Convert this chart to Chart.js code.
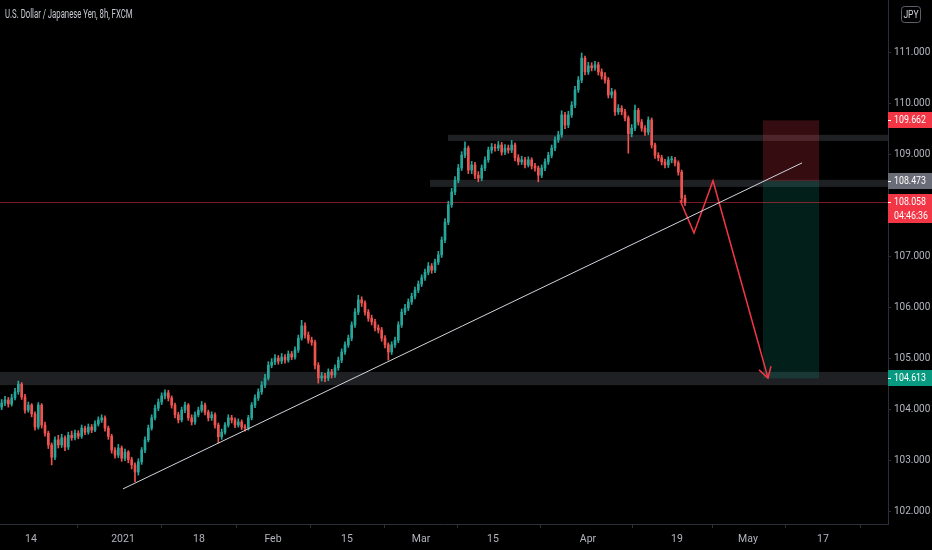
<!DOCTYPE html>
<html>
<head>
<meta charset="utf-8">
<title>USDJPY 8h</title>
<script src="https://cdn.jsdelivr.net/npm/chart.js@4.4.1/dist/chart.umd.min.js"></script>
<style>
  html, body { margin: 0; padding: 0; background: #000; }
  #wrap { width: 932px; height: 550px; position: relative; }
</style>
</head>
<body>
<div id="wrap"><canvas id="chart"></canvas></div>
<script>
// 8h candles, Dec 2020 - Apr 20 2021, opens follow previous close
const firstOpen = 104.05;
const closes = [
  104.13, 104.19, 104.11, 104.23, 104.35, 104.50, 104.25, 103.99, 104.09, 103.92,
  103.66, 104.09, 103.70, 103.54, 103.31, 103.07, 103.41, 103.31, 103.45, 103.27,
  103.50, 103.45, 103.54, 103.48, 103.64, 103.56, 103.66, 103.60, 103.72, 103.80,
  103.84, 103.64, 103.48, 103.21, 103.11, 103.25, 103.05, 103.17, 103.02, 102.92,
  102.78, 102.98, 103.21, 103.41, 103.64, 103.84, 104.03, 104.15, 104.27, 104.33,
  104.23, 104.09, 103.90, 103.80, 103.99, 104.09, 103.84, 103.76, 103.90, 103.99,
  104.09, 103.95, 103.84, 103.90, 103.70, 103.47, 103.56, 103.70, 103.84, 103.80,
  103.70, 103.76, 103.66, 103.64, 103.84, 104.09, 104.23, 104.35, 104.48, 104.62,
  104.87, 104.93, 105.01, 104.95, 105.03, 104.97, 105.09, 105.03, 105.17, 105.40,
  105.64, 105.46, 105.36, 105.32, 104.87, 104.62, 104.66, 104.62, 104.74, 104.68,
  104.82, 104.97, 105.13, 105.27, 105.40, 105.66, 105.91, 106.15, 106.09, 105.91,
  105.79, 105.72, 105.60, 105.56, 105.40, 105.27, 105.13, 105.27, 105.36, 105.66,
  105.91, 105.99, 106.11, 106.22, 106.34, 106.46, 106.58, 106.69, 106.81, 106.73,
  106.89, 107.03, 107.32, 107.67, 108.01, 108.26, 108.49, 108.73, 108.98, 109.12,
  108.69, 108.79, 108.59, 108.53, 108.73, 108.89, 109.08, 109.14, 109.12, 109.18,
  109.04, 109.12, 109.08, 109.18, 108.93, 108.85, 108.89, 108.79, 108.89, 108.77,
  108.73, 108.59, 108.73, 108.85, 108.98, 109.12, 109.28, 109.38, 109.77, 109.57,
  109.77, 109.96, 110.26, 110.45, 110.88, 110.61, 110.73, 110.69, 110.75, 110.61,
  110.53, 110.45, 110.16, 110.22, 109.83, 109.90, 109.83, 109.71, 109.40, 109.51,
  109.86, 109.63, 109.51, 109.43, 109.67, 109.18, 108.98, 108.93, 108.85, 108.79,
  108.89, 108.89, 108.83, 108.65, 108.14, 108.06
];
const highs = [
  104.20, 104.26, 104.24, 104.30, 104.42, 104.56, 104.53, 104.30, 104.15, 104.12,
  103.96, 104.14, 104.12, 103.76, 103.58, 103.35, 103.47, 103.50, 103.52, 103.49,
  103.56, 103.58, 103.60, 103.59, 103.70, 103.68, 103.72, 103.71, 103.78, 103.86,
  103.90, 103.88, 103.68, 103.52, 103.26, 103.32, 103.29, 103.23, 103.20, 103.07,
  102.96, 103.04, 103.26, 103.47, 103.70, 103.90, 104.09, 104.21, 104.33, 104.39,
  104.38, 104.27, 104.13, 103.95, 104.05, 104.15, 104.12, 103.90, 103.96, 104.05,
  104.16, 104.13, 103.99, 103.96, 103.94, 103.74, 103.62, 103.75, 103.90, 103.89,
  103.84, 103.82, 103.80, 103.71, 103.89, 104.14, 104.29, 104.41, 104.55, 104.69,
  104.94, 105.00, 105.08, 105.06, 105.10, 105.08, 105.15, 105.14, 105.23, 105.46,
  105.75, 105.70, 105.52, 105.42, 105.36, 104.92, 104.73, 104.71, 104.80, 104.79,
  104.88, 105.03, 105.19, 105.33, 105.46, 105.72, 105.98, 106.24, 106.21, 106.13,
  105.96, 105.85, 105.77, 105.66, 105.61, 105.45, 105.31, 105.33, 105.42, 105.72,
  105.97, 106.06, 106.17, 106.28, 106.40, 106.52, 106.64, 106.75, 106.88, 106.86,
  106.95, 107.10, 107.38, 107.74, 108.08, 108.33, 108.56, 108.80, 109.05, 109.24,
  109.16, 108.86, 108.84, 108.66, 108.79, 108.95, 109.14, 109.21, 109.20, 109.25,
  109.23, 109.19, 109.18, 109.27, 109.22, 108.99, 108.96, 108.94, 108.95, 108.93,
  108.82, 108.77, 108.79, 108.91, 109.04, 109.18, 109.34, 109.45, 109.85, 109.82,
  109.84, 110.03, 110.33, 110.52, 110.98, 110.92, 110.80, 110.79, 110.82, 110.80,
  110.67, 110.60, 110.50, 110.29, 110.26, 109.97, 109.95, 109.88, 109.75, 109.58,
  109.96, 109.90, 109.68, 109.56, 109.73, 109.71, 109.22, 109.03, 108.98, 108.90,
  108.95, 108.96, 108.94, 108.87, 108.69, 108.20
];
const lows = [
  104.00, 104.08, 104.05, 104.07, 104.19, 104.30, 104.20, 103.93, 103.95, 103.86,
  103.60, 103.62, 103.64, 103.48, 103.24, 102.92, 103.02, 103.25, 103.26, 103.20,
  103.22, 103.40, 103.41, 103.43, 103.44, 103.51, 103.52, 103.55, 103.57, 103.68,
  103.75, 103.58, 103.42, 103.15, 103.05, 103.06, 102.99, 103.00, 102.96, 102.84,
  102.59, 102.72, 102.93, 103.16, 103.37, 103.60, 103.80, 103.98, 104.10, 104.21,
  104.17, 104.03, 103.84, 103.74, 103.76, 103.94, 103.79, 103.70, 103.71, 103.86,
  103.95, 103.90, 103.78, 103.79, 103.64, 103.35, 103.42, 103.52, 103.66, 103.74,
  103.65, 103.66, 103.61, 103.58, 103.60, 103.80, 104.04, 104.18, 104.30, 104.43,
  104.58, 104.82, 104.88, 104.89, 104.90, 104.91, 104.93, 104.98, 104.99, 105.12,
  105.36, 105.40, 105.30, 105.26, 104.80, 104.52, 104.56, 104.55, 104.57, 104.62,
  104.63, 104.77, 104.92, 105.08, 105.22, 105.35, 105.61, 105.86, 106.02, 105.85,
  105.73, 105.66, 105.54, 105.50, 105.34, 105.21, 104.97, 105.08, 105.22, 105.31,
  105.61, 105.86, 105.94, 106.06, 106.17, 106.29, 106.41, 106.53, 106.64, 106.67,
  106.68, 106.84, 106.98, 107.27, 107.62, 107.96, 108.21, 108.44, 108.68, 108.93,
  108.62, 108.62, 108.52, 108.46, 108.48, 108.68, 108.84, 109.02, 109.06, 109.07,
  108.98, 108.99, 109.02, 109.03, 108.87, 108.79, 108.80, 108.73, 108.75, 108.71,
  108.67, 108.46, 108.54, 108.68, 108.80, 108.93, 109.07, 109.23, 109.33, 109.50,
  109.52, 109.72, 109.91, 110.21, 110.40, 110.55, 110.56, 110.63, 110.64, 110.55,
  110.47, 110.39, 110.10, 110.10, 109.76, 109.78, 109.77, 109.65, 109.02, 109.34,
  109.46, 109.57, 109.45, 109.37, 109.38, 109.12, 108.92, 108.87, 108.79, 108.73,
  108.74, 108.83, 108.77, 108.59, 108.05, 108.00
];

// time axis (candle index) and price axis
const dateTickPos = [8.8, 36.4, 59.2, 81.4, 103.6, 125.8, 147.4, 175.9, 202.6, 223.9, 246.4];
const dateTickLabels = ['14', '2021', '18', 'Feb', '15', 'Mar', '15', 'Apr', '19', 'May', '17'];
const priceTicks = [102, 103, 104, 105, 106, 107, 108, 109, 110, 111];

// drawings: support/resistance zones, trendline, projected path, short position
const zoneLows = [104.48, 108.36, 109.26];
const zoneHighs = [104.74, 108.50, 109.38];
const zoneStarts = [-0.5, 128.5, 133.9];
const trendX = [36.4, 240.1];
const trendY = [102.45, 108.83];
const pathX = [203.5, 207.7, 213.4, 229.9];
const pathY = [108.10, 107.46, 108.48, 104.62];
const arrowX = [227.2, 229.9, 230.8];
const arrowY = [104.78, 104.62, 104.85];
const stopPrice = 109.662;
const entryPrice = 108.473;
const targetPrice = 104.613;
const boxStart = 228.4;
const boxEnd = 245.2;
const lastPrice = 108.058;
const countdown = '04:46:36';

const UP = '#26a69a';
const DOWN = '#ef5350';
const TEXT = '#b2b5be';
const LINE = '#2a2e39';
const FONT = 'Roboto, sans-serif';

const opens = closes.map((c, i) => i === 0 ? firstOpen : closes[i - 1]);
const colors = closes.map((c, i) => c >= opens[i] ? UP : DOWN);
const bodies = closes.map((c, i) => ({ x: i, y: [opens[i], c] }));
const wicks = closes.map((c, i) => ({ x: i, y: [lows[i], highs[i]] }));
const toPts = (xs, ys) => xs.map((x, i) => ({ x: x, y: ys[i] }));

// narrow text, like the squeezed labels of the picture
function narrowText(ctx, text, x, y, squeeze) {
    ctx.save();
    ctx.translate(x, y);
    ctx.scale(squeeze, 1);
    ctx.fillText(text, 0, 0);
    ctx.restore();
}

function badge(ctx, yPix, bg, lines) {
    const h = 16 + (lines.length - 1) * 13;
    const top = Math.round(yPix - 8);
    ctx.fillStyle = bg;
    ctx.fillRect(888, top, 44, h);
    ctx.strokeStyle = '#ffffff';
    ctx.lineWidth = 1;
    ctx.beginPath();
    ctx.moveTo(888, top + 8.5);
    ctx.lineTo(891, top + 8.5);
    ctx.stroke();
    ctx.fillStyle = '#ffffff';
    ctx.font = '11px ' + FONT;
    ctx.textAlign = 'left';
    ctx.textBaseline = 'middle';
    lines.forEach((t, k) => narrowText(ctx, t, 894, top + 8.5 + k * 14, 0.8));
}

const overlay = {
    id: 'overlay',
    beforeDatasetsDraw(chart) {
        const { ctx, chartArea: a, scales: { x, y } } = chart;
        ctx.save();
        ctx.beginPath();
        ctx.rect(a.left, a.top, a.width, a.height);
        ctx.clip();
        ctx.fillStyle = 'rgba(120, 123, 134, 0.26)';
        zoneLows.forEach((lo, k) => {
            const x0 = x.getPixelForValue(zoneStarts[k]);
            const yt = y.getPixelForValue(zoneHighs[k]);
            ctx.fillRect(x0, yt, a.right - x0, y.getPixelForValue(lo) - yt);
        });
        const bx0 = x.getPixelForValue(boxStart);
        const bx1 = x.getPixelForValue(boxEnd);
        const yStop = y.getPixelForValue(stopPrice);
        const yEntry = y.getPixelForValue(entryPrice);
        const yTarget = y.getPixelForValue(targetPrice);
        ctx.fillStyle = 'rgba(242, 54, 69, 0.22)';
        ctx.fillRect(bx0, yStop, bx1 - bx0, yEntry - yStop);
        ctx.fillStyle = 'rgba(8, 153, 129, 0.2)';
        ctx.fillRect(bx0, yEntry, bx1 - bx0, yTarget - yEntry);
        const yl = Math.round(y.getPixelForValue(lastPrice)) + 0.5;
        ctx.strokeStyle = 'rgba(242, 54, 69, 0.5)';
        ctx.lineWidth = 1;
        ctx.beginPath();
        ctx.moveTo(a.left, yl);
        ctx.lineTo(a.right, yl);
        ctx.stroke();
        ctx.restore();
    },
    afterDraw(chart) {
        const { ctx, scales: { y } } = chart;
        ctx.save();
        badge(ctx, y.getPixelForValue(stopPrice), '#f23645', [stopPrice.toFixed(3)]);
        badge(ctx, y.getPixelForValue(entryPrice), '#6a6d78', [entryPrice.toFixed(3)]);
        badge(ctx, y.getPixelForValue(lastPrice), '#f23645', [lastPrice.toFixed(3), countdown]);
        badge(ctx, y.getPixelForValue(targetPrice), '#089981', [targetPrice.toFixed(3)]);

        // symbol title
        ctx.fillStyle = '#c8cbd2';
        ctx.font = '12.5px ' + FONT;
        ctx.textAlign = 'left';
        ctx.textBaseline = 'middle';
        narrowText(ctx, 'U.S. Dollar / Japanese Yen, 8h, FXCM', 5, 15, 0.62);

        // currency box
        ctx.strokeStyle = '#5d606b';
        ctx.lineWidth = 1;
        ctx.beginPath();
        ctx.roundRect(901.5, 6.5, 19, 16, 3);
        ctx.stroke();
        ctx.fillStyle = '#d1d4dc';
        ctx.font = '10px ' + FONT;
        ctx.textAlign = 'center';
        narrowText(ctx, 'JPY', 911, 15, 0.85);
        ctx.restore();
    }
};

const ctx = document.getElementById('chart').getContext('2d');
new Chart(ctx, {
    type: 'bar',
    data: {
        datasets: [
            {
                type: 'line',
                data: toPts(trendX, trendY),
                borderColor: '#d1d4dc',
                borderWidth: 1,
                pointRadius: 0,
                order: 0
            },
            {
                type: 'line',
                data: toPts(pathX, pathY),
                borderColor: '#f23645',
                borderWidth: 1.5,
                pointRadius: 0,
                order: 0
            },
            {
                type: 'line',
                data: toPts(arrowX, arrowY),
                borderColor: '#f23645',
                borderWidth: 1.5,
                pointRadius: 0,
                order: 0
            },
            {
                data: bodies,
                backgroundColor: colors,
                barThickness: 2,
                minBarLength: 1,
                grouped: false,
                order: 1
            },
            {
                data: wicks,
                backgroundColor: colors,
                barThickness: 1,
                grouped: false,
                order: 2
            }
        ]
    },
    options: {
        responsive: true,
        maintainAspectRatio: false,
        animation: false,
        events: [],
        layout: { padding: 0 },
        plugins: {
            legend: { display: false },
            tooltip: { enabled: false }
        },
        scales: {
            x: {
                type: 'linear',
                min: -0.5,
                max: 265.9,
                offset: false,
                grid: { drawOnChartArea: false, drawTicks: true, tickLength: 4, color: LINE },
                border: { color: LINE },
                ticks: {
                    color: TEXT,
                    font: { size: 10.5, family: FONT },
                    autoSkip: false,
                    maxRotation: 0,
                    padding: 5,
                    callback: (v, i) => dateTickLabels[i]
                },
                afterBuildTicks: s => { s.ticks = dateTickPos.map(v => ({ value: v })); },
                afterFit: s => { s.height = 26; s.paddingLeft = 0; s.paddingRight = 0; }
            },
            y: {
                type: 'linear',
                position: 'right',
                min: 101.763,
                max: 112.018,
                grid: { drawOnChartArea: false, drawTicks: true, tickLength: 3, color: LINE },
                border: { color: LINE },
                ticks: {
                    color: TEXT,
                    font: { size: 10, family: FONT },
                    padding: 3,
                    callback: v => Number(v).toFixed(3)
                },
                afterBuildTicks: s => { s.ticks = priceTicks.map(v => ({ value: v })); },
                afterFit: s => { s.width = 44; s.paddingTop = 0; s.paddingBottom = 0; }
            }
        }
    },
    plugins: [overlay]
});
</script>
</body>
</html>
